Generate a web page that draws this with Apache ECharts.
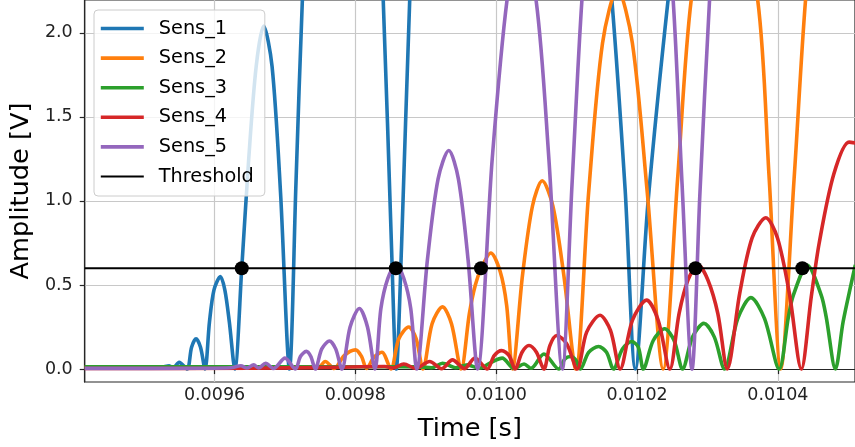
<!DOCTYPE html>
<html><head><meta charset="utf-8">
<script src="https://cdn.jsdelivr.net/npm/echarts@6/dist/echarts.min.js"></script>
<style>html,body{margin:0;padding:0;background:#fff}#c{width:855px;height:447px}</style>
</head><body><div id="c"></div>
<script>
const xTicks = [0.0096, 0.0098, 0.0100, 0.0102, 0.0104];
const yTicks = [0.0, 0.5, 1.0, 1.5, 2.0];
const X_MIN = 0.00941567, X_MAX = 0.01050953;
const Y_MIN = -0.0769, Y_MAX = 2.1953;
const threshold = 0.6;
const seriesNames = ['Sens_1','Sens_2','Sens_3','Sens_4','Sens_5'];
const colors = ['#1f77b4','#ff7f0e','#2ca02c','#d62728','#9467bd'];

const sens1 = [[0.00941567,0.008],[0.00948201,0.008],[0.00952435,0.010],[0.00953564,0.020],[0.00954129,0.006],[0.00954975,0.040],[0.00956105,0.000],[0.00956740,0.130],[0.00957375,0.180],[0.00958010,0.130],[0.00958645,0.000],[0.00959280,0.280],[0.00959915,0.470],[0.00960833,0.550],[0.00961468,0.470],[0.00962103,0.280],[0.00962879,0.000],[0.00963867,0.600],[0.00964855,1.250],[0.00965914,1.800],[0.00966973,2.040],[0.00968172,1.800],[0.00969372,1.050],[0.00970642,0.000],[0.00971560,1.100],[0.00972477,2.200],[0.00975018,4.600],[0.00978123,5.600],[0.00981369,4.600],[0.00983952,2.200],[0.00985138,0.720],[0.00985815,0.000],[0.00986549,0.720],[0.00987721,2.200],[0.00989838,4.300],[0.01003246,6.000],[0.01014538,3.000],[0.01016415,2.200],[0.01018306,1.070],[0.01019760,0.000],[0.01021595,1.010],[0.01024418,2.200],[0.01027241,3.200],[0.01037121,4.500],[0.01051,5.5]];

const sens2 = [[0.00941567,0.013],[0.00972195,0.013],[0.00974735,0.010],[0.00975723,0.045],[0.00976994,0.003],[0.00978405,0.080],[0.00980028,0.114],[0.00980875,0.075],[0.00981581,0.003],[0.00982639,0.070],[0.00983769,0.100],[0.00985039,0.000],[0.00986168,0.180],[0.00987579,0.250],[0.00988638,0.180],[0.00989598,0.000],[0.00990896,0.270],[0.00992378,0.370],[0.00993649,0.270],[0.00995018,0.000],[0.00996189,0.330],[0.00997036,0.500],[0.00997883,0.600],[0.00999224,0.690],[0.01000565,0.580],[0.01001482,0.380],[0.01002301,0.000],[0.01003740,0.560],[0.01005152,0.970],[0.01006535,1.120],[0.01008045,0.970],[0.01009598,0.560],[0.01011291,0.000],[0.01013126,1.050],[0.01015102,1.940],[0.01017219,2.260],[0.01019337,1.940],[0.01021454,1.050],[0.01023712,0.000],[0.01025759,1.130],[0.01027706,2.200],[0.01032039,3.300],[0.01037121,2.200],[0.01038772,1.130],[0.01040409,0.000],[0.01042301,1.130],[0.01043938,2.200],[0.01047001,3.600],[0.01051,4.6]];

const sens3 = [[0.00941567,0.014],[0.00983486,0.014],[0.00989132,0.013],[0.00990826,0.008],[0.00992378,0.035],[0.00994213,0.008],[0.00995907,0.025],[0.00997601,0.005],[0.00999294,0.040],[0.01000847,0.065],[0.01002541,0.003],[0.01003952,0.030],[0.01004940,0.005],[0.01006775,0.090],[0.01008892,0.000],[0.01009739,0.060],[0.01010543,0.075],[0.01011291,0.055],[0.01011955,0.000],[0.01013126,0.100],[0.01014538,0.134],[0.01015667,0.100],[0.01016655,0.000],[0.01017925,0.120],[0.01019238,0.164],[0.01020183,0.130],[0.01020889,0.000],[0.01022301,0.170],[0.01023924,0.240],[0.01025265,0.170],[0.01026464,0.000],[0.01027876,0.190],[0.01029499,0.272],[0.01030981,0.190],[0.01032421,0.000],[0.01034298,0.300],[0.01036175,0.425],[0.01038109,0.300],[0.01040183,0.000],[0.01041496,0.310],[0.01042202,0.440],[0.01044178,0.617],[0.01046154,0.440],[0.01046859,0.310],[0.01048172,0.000],[0.01049259,0.280],[0.01050529,0.530],[0.01051,0.62]];

const sens4 = [[0.00941567,0.003],[0.00965138,0.005],[0.00976429,0.010],[0.00984192,0.015],[0.00985321,0.006],[0.00986874,0.030],[0.00988567,0.004],[0.00990543,0.045],[0.00992237,0.002],[0.00993790,0.055],[0.00995483,0.002],[0.00996965,0.065],[0.00998730,0.000],[0.00999718,0.080],[0.01000776,0.110],[0.01001835,0.080],[0.01002682,0.000],[0.01003670,0.100],[0.01004658,0.140],[0.01005716,0.100],[0.01006775,0.000],[0.01007622,0.140],[0.01008610,0.200],[0.01010021,0.150],[0.01011503,0.000],[0.01012844,0.220],[0.01014749,0.320],[0.01016231,0.230],[0.01017601,0.000],[0.01019337,0.290],[0.01021355,0.410],[0.01023006,0.290],[0.01024658,0.000],[0.01025970,0.330],[0.01027241,0.530],[0.01028652,0.620],[0.01030063,0.530],[0.01031475,0.330],[0.01032816,0.000],[0.01034580,0.450],[0.01036344,0.780],[0.01038292,0.900],[0.01039943,0.780],[0.01041637,0.450],[0.01043331,0.000],[0.01044742,0.430],[0.01045871,0.750],[0.01047946,1.160],[0.01050106,1.350],[0.01051,1.345]];

const sens5 = [[0.00941567,0.004],[0.00958081,0.005],[0.00962315,0.008],[0.00963726,0.020],[0.00964573,0.006],[0.00965561,0.025],[0.00966267,0.006],[0.00967255,0.035],[0.00968384,0.003],[0.00970007,0.065],[0.00971489,0.000],[0.00972195,0.075],[0.00973042,0.105],[0.00973677,0.075],[0.00974312,0.000],[0.00975229,0.120],[0.00976330,0.167],[0.00977205,0.120],[0.00978081,0.000],[0.00979252,0.250],[0.00980565,0.360],[0.00981722,0.250],[0.00982781,0.000],[0.00983627,0.360],[0.00984615,0.540],[0.00985787,0.620],[0.00986874,0.540],[0.00987862,0.360],[0.00988709,0.000],[0.00990233,0.650],[0.00991743,1.130],[0.00993267,1.300],[0.00994637,1.130],[0.00996006,0.650],[0.00997361,0.000],[0.00999435,1.250],[0.01001553,2.200],[0.01003387,2.550],[0.01005646,2.200],[0.01007481,1.250],[0.01009386,0.000],[0.01010769,1.100],[0.01012181,2.200],[0.01015243,3.900],[0.01018631,4.600],[0.01022018,3.900],[0.01025123,2.200],[0.01026394,1.100],[0.01027805,0.000],[0.01028934,1.050],[0.01030303,2.200],[0.01033592,4.500],[0.01042766,7.000],[0.01051,8.0]];

const crossTimes = [0.00963867, 0.00985745, 0.00997841, 0.01028299, 0.01043472];

const FONT = 'DejaVu Sans';
const chart = echarts.init(document.getElementById('c'), null, {renderer:'canvas'});
const allData = [sens1, sens2, sens3, sens4, sens5];
const series = allData.map((d, i) => ({
  name: seriesNames[i], type:'line', data:d, symbol:'none', showSymbol:false,
  smooth:0.3, clip:true, lineStyle:{color:colors[i], width:3.6}, itemStyle:{color:colors[i]}, z:2
}));
series.push({
  name:'Threshold', type:'line', data:[[X_MIN, threshold],[X_MAX, threshold]],
  symbol:'none', showSymbol:false, lineStyle:{color:'#000', width:2}, itemStyle:{color:'#000'}, z:3
});
series.push({
  name:'crossings', type:'scatter', data:crossTimes.map(t => [t, threshold]),
  symbol:'circle', symbolSize:14, itemStyle:{color:'#000', opacity:1}, z:5
});

const legendItems = seriesNames.map((n, i) => ({name:n, lineStyle:{width:3.6, color:colors[i]}}))
  .concat([{name:'Threshold', lineStyle:{width:2, color:'#000'}}]);

const axisCol = '#262626';
chart.setOption({
  animation:false,
  backgroundColor:'#ffffff',
  grid:{left:83, right:-3, top:0, bottom:63, show:true, borderColor:axisCol, borderWidth:1.2},
  legend:{
    orient:'vertical', left:94, top:10,
    data:legendItems,
    itemWidth:43, itemHeight:20, itemGap:10.6,
    padding:[9,11,10,5],
    itemStyle:{opacity:0},
    backgroundColor:'rgba(255,255,255,0.8)', borderColor:'#cccccc', borderWidth:1, borderRadius:4,
    textStyle:{fontFamily:FONT, fontSize:19.3, color:'#000', padding:[0,0,0,10]}
  },
  xAxis:{
    type:'value', min:X_MIN, max:X_MAX, splitNumber:5,
    name:'Time [s]', nameLocation:'middle', nameGap:34,
    nameTextStyle:{fontFamily:FONT, fontSize:25.6, color:'#000'},
    axisLine:{show:true, lineStyle:{color:axisCol, width:1.2}},
    axisTick:{show:true, length:5, customValues:xTicks, lineStyle:{color:axisCol, width:1.2}},
    axisLabel:{customValues:xTicks, formatter:v => v.toFixed(4), fontFamily:FONT, fontSize:17.5, color:'#222', margin:4},
    splitLine:{show:true, lineStyle:{color:'#c8c8c8', width:1.2}}
  },
  yAxis:{
    type:'value', min:Y_MIN, max:Y_MAX, splitNumber:5,
    name:'Amplitude [V]', nameLocation:'middle', nameGap:48, nameRotate:90,
    nameTextStyle:{fontFamily:FONT, fontSize:25.6, color:'#000'},
    axisLine:{show:true, lineStyle:{color:axisCol, width:1.2}},
    axisTick:{show:true, length:5, customValues:yTicks, lineStyle:{color:axisCol, width:1.2}},
    axisLabel:{customValues:yTicks, formatter:v => v.toFixed(1), fontFamily:FONT, fontSize:17.5, color:'#222', margin:12},
    splitLine:{show:true, lineStyle:{color:'#c8c8c8', width:1.2}}
  },
  series
});
</script></body></html>
